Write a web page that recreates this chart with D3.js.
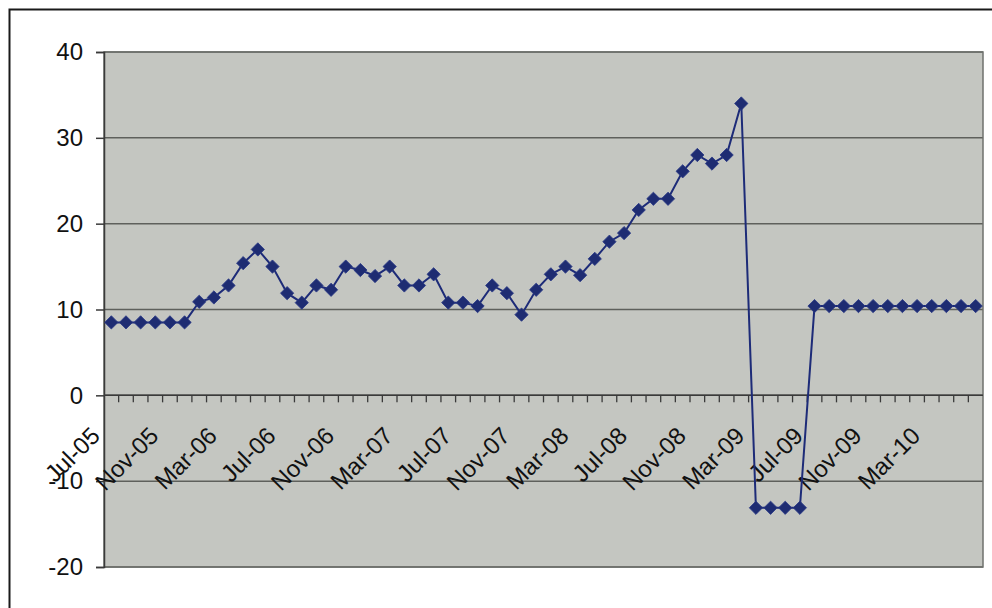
<!DOCTYPE html>
<html>
<head>
<meta charset="utf-8">
<script src="https://cdn.jsdelivr.net/npm/d3@7"></script>
<style>
  html, body { margin: 0; padding: 0; background: #ffffff; }
  svg { display: block; }
  text { font-family: "Liberation Sans", Arial, sans-serif; }
</style>
</head>
<body>
<svg id="chart" width="992" height="608"></svg>
<script>
// Monthly categories, Jul-05 through Jun-10
const months = [
  "Jul-05","Aug-05","Sep-05","Oct-05","Nov-05","Dec-05",
  "Jan-06","Feb-06","Mar-06","Apr-06","May-06","Jun-06",
  "Jul-06","Aug-06","Sep-06","Oct-06","Nov-06","Dec-06",
  "Jan-07","Feb-07","Mar-07","Apr-07","May-07","Jun-07",
  "Jul-07","Aug-07","Sep-07","Oct-07","Nov-07","Dec-07",
  "Jan-08","Feb-08","Mar-08","Apr-08","May-08","Jun-08",
  "Jul-08","Aug-08","Sep-08","Oct-08","Nov-08","Dec-08",
  "Jan-09","Feb-09","Mar-09","Apr-09","May-09","Jun-09",
  "Jul-09","Aug-09","Sep-09","Oct-09","Nov-09","Dec-09",
  "Jan-10","Feb-10","Mar-10","Apr-10","May-10","Jun-10"
];

// Series values, one per month
const values = [
  8.5, 8.5, 8.5, 8.5, 8.5, 8.5,
  10.9, 11.4, 12.8, 15.4, 17.0, 15.0,
  11.9, 10.8, 12.8, 12.3, 15.0, 14.6,
  13.9, 15.0, 12.8, 12.8, 14.1, 10.8,
  10.8, 10.4, 12.8, 11.9, 9.4, 12.3,
  14.1, 15.0, 14.0, 15.9, 17.9, 18.9,
  21.6, 22.9, 22.9, 26.1, 28.0, 27.0,
  28.0, 34.0, -13.1, -13.1, -13.1, -13.1,
  10.4, 10.4, 10.4, 10.4, 10.4, 10.4,
  10.4, 10.4, 10.4, 10.4, 10.4, 10.4
];

const yTicks = [-20, -10, 0, 10, 20, 30, 40];
const labelStep = 4; // every fourth month is labelled

const svg = d3.select("#chart");

// Outer chart frame (extends past the right and bottom edges)
svg.append("rect")
  .attr("x", 9.5).attr("y", 9.5)
  .attr("width", 1010).attr("height", 640)
  .attr("fill", "#ffffff")
  .attr("stroke", "#1a1a1a")
  .attr("stroke-width", 2);

const plot = { left: 104, right: 983, top: 52, bottom: 567 };

const x = d3.scaleBand().domain(months).range([plot.left, plot.right]).padding(0);
const y = d3.scaleLinear().domain([-20, 40]).range([plot.bottom, plot.top]);
const cx = m => x(m) + x.bandwidth() / 2;

// Plot area
svg.append("rect")
  .attr("x", plot.left).attr("y", plot.top)
  .attr("width", plot.right - plot.left).attr("height", plot.bottom - plot.top)
  .attr("fill", "#c4c6c1");

// Horizontal gridlines
svg.append("g")
  .selectAll("line")
  .data(yTicks)
  .join("line")
  .attr("x1", plot.left).attr("x2", plot.right)
  .attr("y1", d => y(d)).attr("y2", d => y(d))
  .attr("stroke", "#5e605c")
  .attr("stroke-width", 1.5);

// Plot border
svg.append("rect")
  .attr("x", plot.left).attr("y", plot.top)
  .attr("width", plot.right - plot.left).attr("height", plot.bottom - plot.top)
  .attr("fill", "none")
  .attr("stroke", "#6f716d")
  .attr("stroke-width", 1.5);

// Value axis
const yAxis = svg.append("g")
  .attr("transform", `translate(${plot.left},0)`)
  .call(d3.axisLeft(y).tickValues(yTicks).tickSize(8).tickPadding(13).tickFormat(d => String(d)));
yAxis.select(".domain").attr("stroke", "#3a3a3a").attr("stroke-width", 1.5);
yAxis.selectAll(".tick line").attr("stroke", "#3a3a3a").attr("stroke-width", 1.5);
yAxis.selectAll(".tick text")
  .attr("font-size", 24)
  .attr("fill", "#111111")
  .style("font-family", "'Liberation Sans', Arial, sans-serif");

// Category axis along zero
const y0 = y(0);
const xAxis = svg.append("g");
xAxis.append("line")
  .attr("x1", plot.left).attr("x2", plot.right)
  .attr("y1", y0).attr("y2", y0)
  .attr("stroke", "#3a3a3a").attr("stroke-width", 1.5);

// Tick marks between categories
const boundaries = months.map(m => x(m)).concat([x(months[months.length - 1]) + x.bandwidth()]);
xAxis.selectAll("line.tick")
  .data(boundaries.slice(1, -1))
  .join("line")
  .attr("class", "tick")
  .attr("x1", d => d).attr("x2", d => d)
  .attr("y1", y0).attr("y2", y0 + 7)
  .attr("stroke", "#3a3a3a").attr("stroke-width", 1.3);

// Rotated month labels
xAxis.selectAll("text")
  .data(months.filter((m, i) => i % labelStep === 0))
  .join("text")
  .attr("transform", d => `translate(${cx(d) - 10},${y0 + 42}) rotate(-45)`)
  .attr("text-anchor", "end")
  .attr("font-size", 24)
  .attr("fill", "#111111")
  .text(d => d);

// Series line
const points = months.map((m, i) => ({ m, v: values[i] }));
svg.append("path")
  .datum(points)
  .attr("fill", "none")
  .attr("stroke", "#1d2b78")
  .attr("stroke-width", 2)
  .attr("d", d3.line().x(d => cx(d.m)).y(d => y(d.v)));

// Diamond markers
const diamond = d3.symbol().type(d3.symbolSquare).size(88);
svg.append("g")
  .selectAll("path")
  .data(points)
  .join("path")
  .attr("transform", d => `translate(${cx(d.m)},${y(d.v)}) rotate(45)`)
  .attr("d", diamond)
  .attr("fill", "#1e2c72")
  .attr("stroke", "#2a3a86")
  .attr("stroke-width", 0.8);
</script>
</body>
</html>
